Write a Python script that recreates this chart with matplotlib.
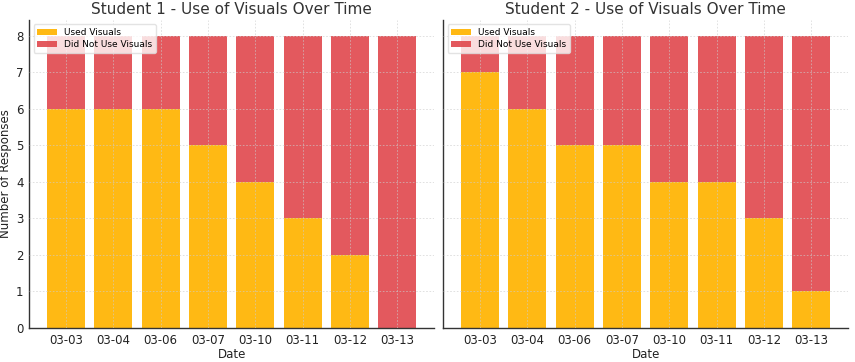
import matplotlib
matplotlib.use("Agg")
import matplotlib.pyplot as plt
import numpy as np

dates = ["03-03", "03-04", "03-06", "03-07", "03-10", "03-11", "03-12", "03-13"]
total = 8
s1_used = [6, 6, 6, 5, 4, 3, 2, 0]
s2_used = [7, 6, 5, 5, 4, 4, 3, 1]

yellow = "#FFB300"
red = "#E0474C"

fig, axes = plt.subplots(1, 2, figsize=(8.55, 3.62), dpi=100, sharey=True)
fig.subplots_adjust(left=0.034, right=0.992, top=0.945, bottom=0.094, wspace=0.022)

for ax, used, title in zip(axes, [s1_used, s2_used],
                           ["Student 1 - Use of Visuals Over Time", "Student 2 - Use of Visuals Over Time"]):
    used = np.array(used)
    not_used = total - used
    x = np.arange(len(dates))
    ax.bar(x, used, color=yellow, alpha=0.92, width=0.8, label="Used Visuals", zorder=2)
    ax.bar(x, not_used, bottom=used, color=red, alpha=0.9, width=0.8, label="Did Not Use Visuals", zorder=2)
    ax.set_xticks(x)
    ax.set_xticklabels(dates)
    ax.set_xlabel("Date", fontsize=8.5, labelpad=1, color="#222222")
    ax.set_title(title, fontsize=11, color="#333333", pad=4)
    ax.set_xlim(-0.78, 7.78)
    ax.set_ylim(0, 8.44)
    ax.set_yticks(range(0, 9))
    ax.grid(True, linestyle=(0, (2, 2)), color="#cccccc", linewidth=0.6, alpha=0.7, zorder=3)
    ax.set_axisbelow(False)
    for s in ["top", "right"]:
        ax.spines[s].set_visible(False)
    for s in ["left", "bottom"]:
        ax.spines[s].set_color("#333333")
        ax.spines[s].set_linewidth(1.0)
    ax.tick_params(axis="both", labelsize=8.5, length=0, pad=4, labelcolor="#222222")
    ax.legend(loc="upper left", fontsize=6.5, frameon=True, framealpha=0.8,
              edgecolor="#dddddd", borderpad=0.4, handlelength=2.2, labelspacing=0.35)

axes[0].set_ylabel("Number of Responses", fontsize=8.5, labelpad=3, color="#222222")

fig.savefig("out.png", dpi=100)
